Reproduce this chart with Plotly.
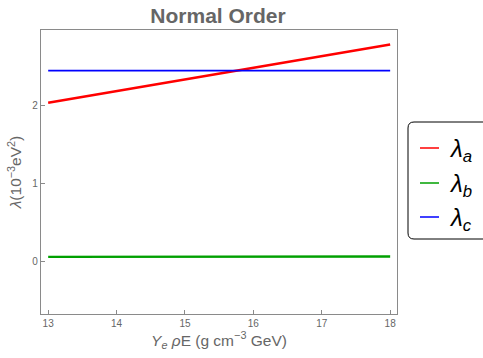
import plotly.graph_objects as go

x_vals = [13, 14, 15, 16, 17, 18]
lambda_a = [2.04, 2.19, 2.34, 2.49, 2.64, 2.79]
lambda_b = [0.058, 0.059, 0.060, 0.061, 0.062, 0.063]
lambda_c = [2.455, 2.455, 2.455, 2.455, 2.455, 2.455]

names = ["λ<sub>a</sub>", "λ<sub>b</sub>", "λ<sub>c</sub>"]
values = [lambda_a, lambda_b, lambda_c]
colors = ["#ff0000", "#00a000", "#0000ff"]
widths = [2.5, 2.3, 1.8]

W, H = 483, 358
L, R, T, B = 41, 86, 30, 44
pw, ph = W - L - R, H - T - B


def px(xp):
    return (xp - L) / pw


def py(yp):
    return (H - B - yp) / ph


fig = go.Figure()
for name, vals, color, w in zip(names, values, colors, widths):
    fig.add_trace(go.Scatter(x=x_vals, y=vals, mode="lines", name=name,
                             line=dict(color=color, width=w), showlegend=False))

axis_common = dict(showgrid=False, zeroline=False, showline=True, linecolor="#8a8a8a",
                   linewidth=1.3, mirror=True, ticks="inside", ticklen=4, tickcolor="#8a8a8a",
                   tickfont=dict(size=10, color="#666666", family="Liberation Sans"))

# manual legend box with rounded corners
x0, x1, y0, y1, r = 408, 492, 122, 239, 6
path = (f"M {px(x0 + r)},{py(y0)} L {px(x1 - r)},{py(y0)} "
        f"Q {px(x1)},{py(y0)} {px(x1)},{py(y0 + r)} L {px(x1)},{py(y1 - r)} "
        f"Q {px(x1)},{py(y1)} {px(x1 - r)},{py(y1)} L {px(x0 + r)},{py(y1)} "
        f"Q {px(x0)},{py(y1)} {px(x0)},{py(y1 - r)} L {px(x0)},{py(y0 + r)} "
        f"Q {px(x0)},{py(y0)} {px(x0 + r)},{py(y0)} Z")
shapes = [dict(type="path", xref="paper", yref="paper", path=path,
               line=dict(color="black", width=1), fillcolor="white")]
annotations = []
item_y = [148, 183, 217]
for name, color, yy in zip(names, colors, item_y):
    shapes.append(dict(type="line", xref="paper", yref="paper", x0=px(420), x1=px(439),
                       y0=py(yy), y1=py(yy), line=dict(color=color, width=1.5)))
    annotations.append(dict(xref="paper", yref="paper", x=px(447), y=py(yy + 2), xanchor="left",
                            yanchor="middle", showarrow=False, text="<i>" + name + "</i>",
                            font=dict(size=24, color="black", family="Liberation Sans")))

fig.update_layout(
    width=W, height=H,
    margin=dict(l=L, r=R, t=T, b=B),
    plot_bgcolor="white", paper_bgcolor="white",
    title=dict(text="<b>Normal Order</b>", x=218 / W, xanchor="center", y=1 - 16 / H, yanchor="middle",
               font=dict(size=21, color="#666666", family="Liberation Sans")),
    xaxis=dict(range=[12.895, 18.1], tickvals=[13, 14, 15, 16, 17, 18],
               title=dict(text="<i>Y<sub>e</sub> ρ</i>E (g cm<sup>−3</sup> GeV)", standoff=4,
                          font=dict(size=15.5, color="#666666", family="Liberation Sans")),
               **axis_common),
    yaxis=dict(range=[-0.677, 2.977], tickvals=[0, 1, 2],
               title=dict(text="<i>λ</i>(10<sup>−3</sup>eV<sup>2</sup>)", standoff=6,
                          font=dict(size=15.5, color="#666666", family="Liberation Sans")),
               **axis_common),
    shapes=shapes,
    annotations=annotations,
    showlegend=False,
)

fig.write_html("out.html")
